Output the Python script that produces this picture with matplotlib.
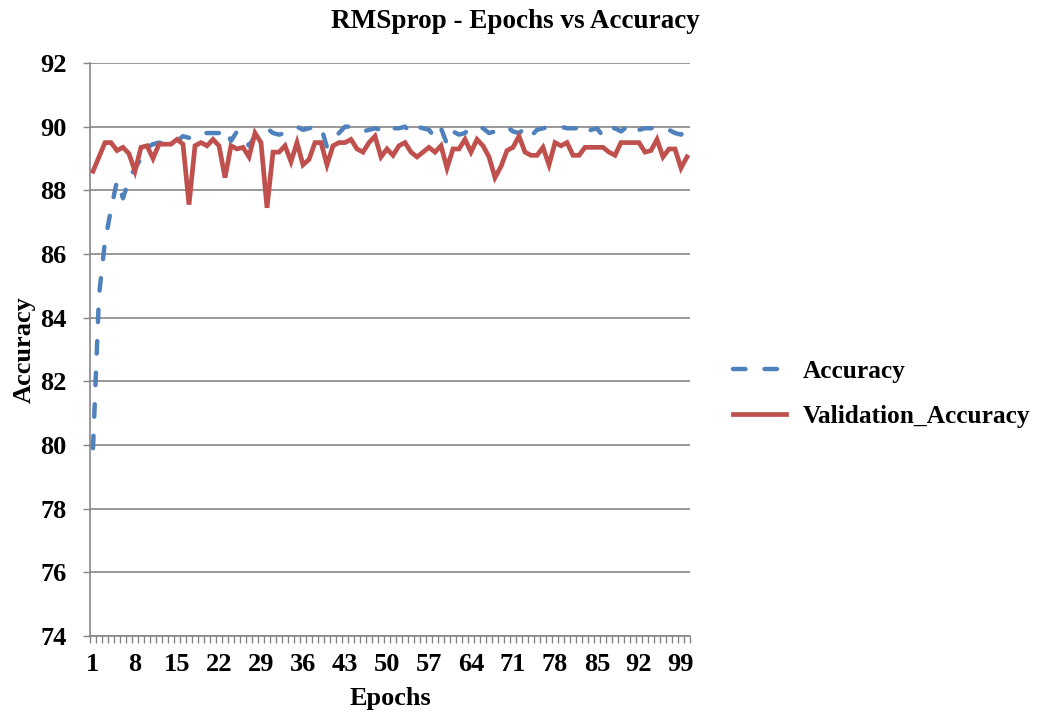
import matplotlib
matplotlib.use("Agg")
import matplotlib.pyplot as plt
import numpy as np

# training history, one value per epoch
epochs = list(range(1, 101))

accuracy = [
    79.9, 84.7, 86.4, 87.4, 88.3, 87.75, 88.35, 88.7, 89.0, 89.35,
    89.45, 89.5, 89.45, 89.4, 89.55, 89.7, 89.65, 89.8, 89.8, 89.8,
    89.8, 89.8, 89.95, 89.55, 89.85, 89.7, 89.4, 89.7, 89.9, 89.95,
    89.8, 89.75, 89.8, 89.9, 90.0, 89.9, 89.95, 90.0, 90.0, 89.35,
    89.6, 89.8, 90.0, 90.0, 89.95, 89.85, 89.9, 89.95, 89.9, 89.8,
    89.95, 89.95, 90.0, 89.8, 90.0, 89.95, 89.9, 89.65, 89.95, 89.45,
    89.85, 89.75, 89.8, 90.0, 90.0, 89.95, 89.8, 89.85, 89.95, 90.0,
    89.85, 89.8, 89.95, 89.7, 89.9, 89.95, 90.0, 90.0, 90.0, 89.95,
    89.95, 89.95, 89.75, 89.9, 89.95, 89.7, 89.95, 89.95, 89.85, 90.0,
    89.8, 89.9, 89.95, 89.95, 90.0, 89.95, 89.9, 89.8, 89.75, 89.9,
]

val_accuracy = [
    88.6, 89.05, 89.5, 89.5, 89.25, 89.35, 89.15, 88.6, 89.35, 89.4,
    89.0, 89.45, 89.45, 89.45, 89.6, 89.45, 87.55, 89.4, 89.5, 89.4,
    89.6, 89.4, 88.4, 89.4, 89.3, 89.35, 89.05, 89.8, 89.5, 87.45,
    89.2, 89.2, 89.4, 88.9, 89.5, 88.8, 88.97, 89.5, 89.5, 88.8,
    89.4, 89.5, 89.5, 89.6, 89.3, 89.2, 89.5, 89.7, 89.05, 89.3,
    89.1, 89.4, 89.5, 89.2, 89.05, 89.2, 89.35, 89.2, 89.4, 88.7,
    89.3, 89.3, 89.6, 89.2, 89.6, 89.4, 89.05, 88.4, 88.75, 89.25,
    89.35, 89.7, 89.2, 89.1, 89.1, 89.35, 88.8, 89.5, 89.4, 89.5,
    89.1, 89.1, 89.35, 89.35, 89.35, 89.35, 89.2, 89.1, 89.5, 89.5,
    89.5, 89.5, 89.2, 89.25, 89.6, 89.05, 89.3, 89.3, 88.7, 89.05,
]

x_labels = list(range(1, 101, 7))
y_ticks = list(range(74, 93, 2))

BLUE = "#4F81BD"
RED = "#C0504D"
GRID = "#868686"
FS = 19

plt.rcParams["font.family"] = ["Liberation Serif", "DejaVu Serif"]
plt.rcParams["font.weight"] = "bold"

fig = plt.figure(figsize=(10.45, 7.15), dpi=100)
ax = fig.add_axes([90 / 1045, 1 - 636 / 715, 600 / 1045, 573 / 715])

ax.plot(epochs, accuracy, color=BLUE, lw=3.2, linestyle=(0, (2.8, 4.3)),
        dash_capstyle="round", label="Accuracy", zorder=3)
ax.plot(epochs, val_accuracy, color=RED, lw=3.4, solid_joinstyle="miter",
        label="Validation_Accuracy", zorder=3)

ax.set_xlim(0.5, 100.5)
ax.set_ylim(74, 92)

# horizontal gridlines only
ax.set_yticks(y_ticks)
ax.yaxis.grid(True, color=GRID, lw=1.2)
ax.set_axisbelow(True)

# category-style x axis: ticks between categories, labels every 7th epoch
ax.set_xticks(x_labels)
ax.set_xticks(np.arange(0.5, 101, 1), minor=True)
ax.tick_params(axis="x", which="major", length=0, pad=12, labelsize=FS)
ax.tick_params(axis="x", which="minor", length=5, width=1, color=GRID,
               direction="out")
ax.tick_params(axis="y", length=5, width=1, color=GRID, pad=12, labelsize=FS)

for s in ["top", "right"]:
    ax.spines[s].set_visible(False)
for s in ["left", "bottom"]:
    ax.spines[s].set_color(GRID)
    ax.spines[s].set_linewidth(1.2)

for lab in ax.get_xticklabels() + ax.get_yticklabels():
    lab.set_fontweight("bold")

ax.set_xlabel("Epochs", fontsize=FS, fontweight="bold", labelpad=8)
ax.set_ylabel("Accuracy", fontsize=FS, fontweight="bold", labelpad=3)

fig.text(515 / 1045, 1 - 22 / 715, "RMSprop - Epochs vs Accuracy",
         ha="center", va="center", fontsize=19.5, fontweight="bold")

fig.legend(loc="upper left", bbox_to_anchor=(733 / 1045, 1 - 360 / 715),
           frameon=False, handlelength=2.1, handletextpad=0.65,
           labelspacing=0.85, borderpad=0, borderaxespad=0,
           prop={"weight": "bold", "size": 18.3})

fig.savefig("out.png", dpi=100)
